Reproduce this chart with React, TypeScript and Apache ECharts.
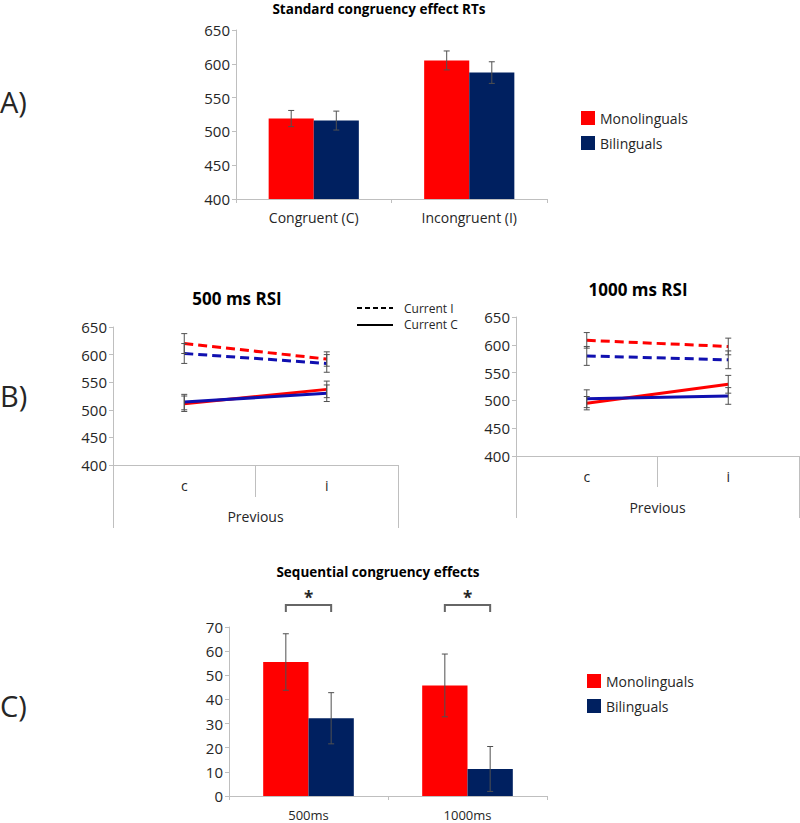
import React, { useEffect, useRef } from "react";
import * as echarts from "echarts";

// ---------- Data ----------
const catsA = ["Congruent (C)", "Incongruent (I)"];
const monoA = [519, 605];
const biA = [516, 587];
const monoErrA = [12, 14];
const biErrA = [14, 16];

const catsB = ["c", "i"];
const prevLabel = ["Previous"];
const mono500I = [620, 592];
const bi500I = [602, 584];
const mono500C = [511, 537];
const bi500C = [514, 530];
const mono500IErr = [18, 13];
const bi500IErr = [18, 16];
const mono500CErr = [14, 15];
const bi500CErr = [14, 15];

const mono1000I = [608, 597];
const bi1000I = [580, 573];
const mono1000C = [495, 529];
const bi1000C = [503, 508];
const mono1000IErr = [14, 15];
const bi1000IErr = [17, 16];
const mono1000CErr = [12, 16];
const bi1000CErr = [16, 15];

const catsC = ["500ms", "1000ms"];
const monoC = [55.5, 45.8];
const biC = [32.2, 11.2];
const monoErrC = [11.7, 13];
const biErrC = [10.6, 9.3];

const yTicksB = { min: 400, max: 650, interval: 50 };

// ---------- Styles ----------
const FONT = "Open Sans";
const RED = "#ff0000";
const NAVY = "#002060";
const LBLUE = "#1010b0";
const AXIS = "#bfbfbf";
const TXT = "#262626";
const ERR = "#505050";
const GAP_A = 0.42;
const GAP_C = 0.43;

function errGroup(x: number, top: number, bot: number) {
  const cap = 3;
  const st = { stroke: ERR, lineWidth: 1 };
  return {
    type: "group",
    children: [
      { type: "line", shape: { x1: x, y1: top, x2: x, y2: bot }, style: st },
      { type: "line", shape: { x1: x - cap, y1: top, x2: x + cap, y2: top }, style: st },
      { type: "line", shape: { x1: x - cap, y1: bot, x2: x + cap, y2: bot }, style: st },
    ],
  };
}

function barErr(sign: number, gap: number) {
  return (params: any, api: any) => {
    const idx = api.value(0);
    const v = api.value(1);
    const e = api.value(2);
    const c = api.coord([idx, v]);
    const band = api.size([1, 0])[0];
    const w = (band * (1 - gap)) / 2;
    const x = c[0] + (sign * w) / 2;
    const top = api.coord([idx, v + e])[1];
    const bot = api.coord([idx, v - e])[1];
    return errGroup(x, top, bot);
  };
}

function lineErr(params: any, api: any) {
  const idx = api.value(0);
  const v = api.value(1);
  const e = api.value(2);
  const x = api.coord([idx, v])[0];
  const top = api.coord([idx, v + e])[1];
  const bot = api.coord([idx, v - e])[1];
  return errGroup(x, top, bot);
}

const errData = (vals: number[], errs: number[]) => vals.map((v, i) => [i, v, errs[i]]);

function yAxisCommon(gridIndex: number, min: number, max: number, interval: number) {
  return {
    type: "value",
    gridIndex,
    min,
    max,
    interval,
    splitLine: { show: false },
    axisLine: { show: true, lineStyle: { color: AXIS, width: 1 } },
    axisTick: { show: true, length: 4, lineStyle: { color: AXIS } },
    axisLabel: { fontSize: 15, color: TXT, fontFamily: FONT, margin: 6 },
  };
}

function lineSeries(name: string, data: number[], color: string, dashed: boolean, axis: number) {
  return {
    type: "line",
    name,
    xAxisIndex: axis,
    yAxisIndex: axis === 1 ? 1 : 2,
    data,
    symbol: "none",
    silent: true,
    z: 3,
    lineStyle: { color, width: 3, type: dashed ? [9, 5] : "solid", cap: "butt" },
  };
}

function lineErrSeries(vals: number[], errs: number[], axis: number) {
  return {
    type: "custom",
    xAxisIndex: axis,
    yAxisIndex: axis === 1 ? 1 : 2,
    renderItem: lineErr,
    data: errData(vals, errs),
    silent: true,
    z: 4,
  };
}

const catAxisLabel = (size: number, margin: number) => ({
  fontSize: size,
  color: TXT,
  fontFamily: FONT,
  margin,
});

export default function App() {
  const ref = useRef<HTMLDivElement>(null);

  useEffect(() => {
    document.body.style.margin = "0";
    if (!ref.current) return;
    const chart = echarts.init(ref.current, undefined, { renderer: "svg" });

    const legendCommon = {
      data: ["Monolinguals", "Bilinguals"],
      orient: "vertical",
      itemWidth: 14,
      itemHeight: 14,
      itemGap: 11,
      icon: "rect",
      selectedMode: false,
      textStyle: { fontSize: 14, color: TXT, fontFamily: FONT },
    };

    const option: any = {
      animation: false,
      textStyle: { fontFamily: FONT },
      grid: [
        { left: 236, top: 30, width: 311, height: 169 },
        { left: 113, top: 327, width: 285, height: 138 },
        { left: 516, top: 317, width: 283, height: 139 },
        { left: 229, top: 627, width: 318, height: 169 },
      ],
      xAxis: [
        {
          type: "category",
          gridIndex: 0,
          data: catsA,
          axisLine: { lineStyle: { color: AXIS } },
          axisTick: { show: true, length: 4, lineStyle: { color: AXIS } },
          axisLabel: catAxisLabel(14, 11),
        },
        {
          type: "category",
          gridIndex: 1,
          data: catsB,
          axisLine: { lineStyle: { color: AXIS } },
          axisTick: { show: true, length: 32, lineStyle: { color: AXIS } },
          axisLabel: catAxisLabel(14, 13),
        },
        {
          type: "category",
          gridIndex: 1,
          data: prevLabel,
          position: "bottom",
          axisLine: { show: false },
          axisTick: { show: true, length: 63, lineStyle: { color: AXIS } },
          axisLabel: catAxisLabel(14, 44),
        },
        {
          type: "category",
          gridIndex: 2,
          data: catsB,
          axisLine: { lineStyle: { color: AXIS } },
          axisTick: { show: true, length: 31, lineStyle: { color: AXIS } },
          axisLabel: catAxisLabel(14, 13),
        },
        {
          type: "category",
          gridIndex: 2,
          data: prevLabel,
          position: "bottom",
          axisLine: { show: false },
          axisTick: { show: true, length: 62, lineStyle: { color: AXIS } },
          axisLabel: catAxisLabel(14, 44),
        },
        {
          type: "category",
          gridIndex: 3,
          data: catsC,
          axisLine: { lineStyle: { color: AXIS } },
          axisTick: { show: true, length: 4, lineStyle: { color: AXIS } },
          axisLabel: catAxisLabel(13, 12),
        },
      ],
      yAxis: [
        yAxisCommon(0, 400, 650, 50),
        yAxisCommon(1, yTicksB.min, yTicksB.max, yTicksB.interval),
        yAxisCommon(2, yTicksB.min, yTicksB.max, yTicksB.interval),
        yAxisCommon(3, 0, 70, 10),
      ],
      legend: [
        { ...legendCommon, left: 576, top: 106 },
        { ...legendCommon, left: 582, top: 669 },
      ],
      series: [
        // Panel A
        { type: "bar", name: "Monolinguals", xAxisIndex: 0, yAxisIndex: 0, data: monoA, itemStyle: { color: RED }, barGap: "0%", barCategoryGap: "42%", silent: true },
        { type: "bar", name: "Bilinguals", xAxisIndex: 0, yAxisIndex: 0, data: biA, itemStyle: { color: NAVY }, barGap: "0%", barCategoryGap: "42%", silent: true },
        { type: "custom", xAxisIndex: 0, yAxisIndex: 0, renderItem: barErr(-1, GAP_A), data: errData(monoA, monoErrA), z: 5, silent: true },
        { type: "custom", xAxisIndex: 0, yAxisIndex: 0, renderItem: barErr(1, GAP_A), data: errData(biA, biErrA), z: 5, silent: true },
        // Panel B left (500 ms)
        lineSeries("Mono I 500", mono500I, RED, true, 1),
        lineSeries("Bi I 500", bi500I, LBLUE, true, 1),
        lineSeries("Mono C 500", mono500C, RED, false, 1),
        lineSeries("Bi C 500", bi500C, LBLUE, false, 1),
        lineErrSeries(mono500I, mono500IErr, 1),
        lineErrSeries(bi500I, bi500IErr, 1),
        lineErrSeries(mono500C, mono500CErr, 1),
        lineErrSeries(bi500C, bi500CErr, 1),
        // Panel B right (1000 ms)
        lineSeries("Mono I 1000", mono1000I, RED, true, 3),
        lineSeries("Bi I 1000", bi1000I, LBLUE, true, 3),
        lineSeries("Mono C 1000", mono1000C, RED, false, 3),
        lineSeries("Bi C 1000", bi1000C, LBLUE, false, 3),
        lineErrSeries(mono1000I, mono1000IErr, 3),
        lineErrSeries(bi1000I, bi1000IErr, 3),
        lineErrSeries(mono1000C, mono1000CErr, 3),
        lineErrSeries(bi1000C, bi1000CErr, 3),
        // Panel C
        { type: "bar", name: "Monolinguals", xAxisIndex: 5, yAxisIndex: 3, data: monoC, itemStyle: { color: RED }, barGap: "0%", barCategoryGap: "43%", silent: true },
        { type: "bar", name: "Bilinguals", xAxisIndex: 5, yAxisIndex: 3, data: biC, itemStyle: { color: NAVY }, barGap: "0%", barCategoryGap: "43%", silent: true },
        { type: "custom", xAxisIndex: 5, yAxisIndex: 3, renderItem: barErr(-1, GAP_C), data: errData(monoC, monoErrC), z: 5, silent: true },
        { type: "custom", xAxisIndex: 5, yAxisIndex: 3, renderItem: barErr(1, GAP_C), data: errData(biC, biErrC), z: 5, silent: true },
      ],
    };

    chart.setOption(option);

    // Significance brackets in panel C: from red bar centre to blue bar centre
    const p0 = chart.convertToPixel({ xAxisIndex: 5, yAxisIndex: 3 } as any, [0, 0]) as number[];
    const p1 = chart.convertToPixel({ xAxisIndex: 5, yAxisIndex: 3 } as any, [1, 0]) as number[];
    const band = p1[0] - p0[0];
    const bw = (band * (1 - GAP_C)) / 2;
    const brackets: any[] = [];
    catsC.forEach((_, i) => {
      const cx = i === 0 ? p0[0] : p1[0];
      const xl = cx - bw / 2;
      const xr = cx + bw / 2;
      const yb = 605;
      brackets.push({
        type: "polyline",
        shape: { points: [[xl, yb + 7], [xl, yb], [xr, yb], [xr, yb + 7]] },
        style: { stroke: "#666", lineWidth: 2, fill: null },
        silent: true,
      });
      brackets.push({
        type: "text",
        x: cx,
        y: 597,
        style: { text: "*", fill: TXT, font: `bold 17px "${FONT}"`, textAlign: "center", textVerticalAlign: "middle" },
        silent: true,
      });
    });

    const txt = (text: string, x: number, y: number, size: number, bold: boolean, align = "center") => ({
      type: "text",
      x,
      y,
      silent: true,
      style: {
        text,
        fill: bold ? "#000" : TXT,
        font: `${bold ? "bold " : ""}${size}px "${FONT}"`,
        textAlign: align,
        textVerticalAlign: "middle",
      },
    });

    const graphics: any[] = [
      txt("A)", 0, 101, 29, false, "left"),
      txt("B)", 0, 395, 29, false, "left"),
      txt("C)", 0, 705, 29, false, "left"),
      txt("Standard congruency effect RTs", 379, 9, 13.5, true),
      txt("500 ms RSI", 237, 298, 17, true),
      txt("1000 ms RSI", 638, 289, 17, true),
      txt("Sequential congruency effects", 378, 572, 13.5, true),
      {
        type: "line",
        shape: { x1: 357, y1: 308, x2: 393, y2: 308 },
        style: { stroke: "#000", lineWidth: 2, lineDash: [5, 3] },
        silent: true,
      },
      {
        type: "line",
        shape: { x1: 357, y1: 325, x2: 393, y2: 325 },
        style: { stroke: "#000", lineWidth: 2 },
        silent: true,
      },
      txt("Current I", 404, 308, 12, false, "left"),
      txt("Current C", 404, 324, 12, false, "left"),
      ...brackets,
    ];

    chart.setOption({ graphic: graphics });

    return () => chart.dispose();
  }, []);

  return <div ref={ref} style={{ width: 800, height: 823 }} />;
}
